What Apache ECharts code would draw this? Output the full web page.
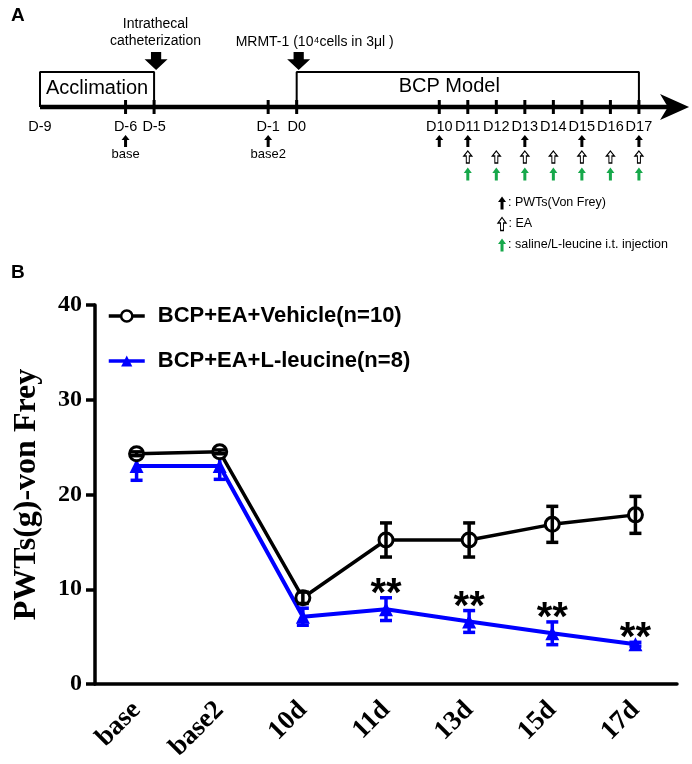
<!DOCTYPE html>
<html>
<head>
<meta charset="utf-8">
<script src="https://cdn.jsdelivr.net/npm/echarts@6/dist/echarts.min.js"></script>
<style>
html,body{margin:0;padding:0;background:#fff;}
#chart{width:692px;height:764px;}
</style>
</head>
<body>
<div id="chart"></div>
<script>
// ---------- Panel B data ----------
const categories = ['base', 'base2', '10d', '11d', '13d', '15d', '17d'];
const vehicleMean = [24.3, 24.5, 9.1, 15.2, 15.2, 16.85, 17.85];
const vehicleSem  = [0.2, 0.2, 0.6, 1.8, 1.8, 1.9, 1.95];
const leucineMean = [23.0, 23.0, 7.1, 7.9, 6.6, 5.35, 4.2];
const leucineSem  = [1.5, 1.4, 0.9, 1.2, 1.15, 1.2, 0.2];
const significance = ['', '', '', '**', '**', '**', '**'];
const seriesNames = ['BCP+EA+Vehicle(n=10)', 'BCP+EA+L-leucine(n=8)'];
const yMin = 0, yMax = 40, yInterval = 10;

// ---------- Panel A data (timeline, days) ----------
const timelineDays = [-9, -6, -5, -1, 0, 10, 11, 12, 13, 14, 15, 16, 17];
const tickDays = [-6, -5, -1, 0, 10, 11, 12, 13, 14, 15, 16, 17];
const baselineDays = [-6, -1];
const baselineLabels = ['base', 'base2'];
const pwtDays = [10, 11, 13, 15, 17];
const eaDays = [11, 12, 13, 14, 15, 16, 17];
const injectionDays = [11, 12, 13, 14, 15, 16, 17];
const phaseNames = ['Acclimation', 'BCP Model'];
const phaseStart = [-9, 0];
const phaseEnd = [-5, 17];
const eventDays = [-5, 0];
const eventLabels = ['Intrathecal\ncatheterization', 'MRMT-1 (10\u2074cells in 3\u03bcl )'];
const keyLabels = [': PWTs(Von Frey)', ': EA', ': saline/L-leucine i.t. injection'];

// timeline axis has a compressed gap between D0 and D10
function dayPos(d) { return d <= 0 ? d + 9 : d + 4; }

// layout rows for panel A (vertical placement only)
const R = { evText: 33, evText2: 42, bigArrow: 61, boxTop: 72, line: 107, dayLabel: 127,
  pwt: 141, baseLabel: 154, ea: 157, inj: 174, key: [203, 224, 245] };

const SANS = '"Liberation Sans", Arial, sans-serif';
const SERIF = '"Liberation Serif", "Times New Roman", serif';
const GREEN = '#16a84a';
const BLUE = '#0000ff';

const upArrow = 'path://M4,0 L8,5 L5.5,5 L5.5,12 L2.5,12 L2.5,5 L0,5 Z';
const downBig = 'path://M5,0 L13,0 L13,6 L18,6 L9,15 L0,6 L5,6 Z';
const rightHead = 'path://M0,0 L13,6 L0,12 L3.5,6 Z';

function textPoint(x, y, text, opts) {
  return {
    value: [x, y],
    label: Object.assign({ show: true, formatter: text, position: [0, 0], align: 'center',
      verticalAlign: 'middle', color: '#000', opacity: 1, textBorderWidth: 0,
      fontFamily: SANS, fontSize: 15 }, opts || {})
  };
}

const A = { xAxisIndex: 0, yAxisIndex: 0 };
const B = { xAxisIndex: 1, yAxisIndex: 1 };

const series = [];
function sc(o) {
  o.type = 'scatter'; o.silent = true;
  o.itemStyle = Object.assign({ opacity: 1, color: '#000' }, o.itemStyle || {});
  series.push(Object.assign(o, A));
}

// main timeline line
series.push(Object.assign({ type: 'line', data: [[0, R.line], [22.3, R.line]], symbol: 'none',
  lineStyle: { color: '#000', width: 4.5 }, silent: true }, A));
// arrow head
sc({ data: [[22.25, R.line]], symbol: rightHead, symbolSize: [29, 26] });
// phase boxes
phaseNames.forEach((n, i) => {
  const s = dayPos(phaseStart[i]), e = dayPos(phaseEnd[i]);
  series.push(Object.assign({ type: 'line', symbol: 'none', silent: true,
    data: [[s, R.line], [s, R.boxTop], [e, R.boxTop], [e, R.line]],
    lineStyle: { color: '#000', width: 2 } }, A));
});
// phase names
sc({ symbolSize: 0, data: [textPoint(2.0, 88, phaseNames[0], { fontSize: 20 }),
                           textPoint(14.35, 86, phaseNames[1], { fontSize: 20 })] });
// ticks
sc({ symbol: 'rect', symbolSize: [3, 14], data: tickDays.map(d => [dayPos(d), R.line]) });
// day labels
sc({ symbolSize: 0, data: timelineDays.map(d => textPoint(dayPos(d), R.dayLabel, 'D' + d, { fontSize: 14.5 })) });
// events: big arrows + text
sc({ symbol: downBig, symbolSize: [23, 18], data: eventDays.map(d => [dayPos(d) + 0.07, R.bigArrow]) });
sc({ symbolSize: 0, data: [
  textPoint(dayPos(eventDays[0]) + 0.05, R.evText, eventLabels[0], { fontSize: 14, lineHeight: 17 }),
  textPoint(dayPos(eventDays[1]) + 0.63, R.evText2, eventLabels[1], { fontSize: 14 })] });
// baseline arrows + labels
sc({ symbol: upArrow, symbolSize: [8, 12], data: baselineDays.map(d => [dayPos(d), R.pwt]) });
sc({ symbolSize: 0, data: baselineDays.map((d, i) => textPoint(dayPos(d), R.baseLabel, baselineLabels[i], { fontSize: 13 })) });
// PWT arrows (black)
sc({ symbol: upArrow, symbolSize: [8, 12], data: pwtDays.map(d => [dayPos(d), R.pwt]) });
// EA arrows (white)
sc({ symbol: upArrow, symbolSize: [8, 12], itemStyle: { color: '#fff', borderColor: '#000', borderWidth: 1.2 },
  data: eaDays.map(d => [dayPos(d), R.ea]) });
// injection arrows (green)
sc({ symbol: upArrow, symbolSize: [8, 13], itemStyle: { color: GREEN }, data: injectionDays.map(d => [dayPos(d), R.inj]) });
// key
const keyX = 16.2;
const keyStyles = [{ color: '#000' }, { color: '#fff', borderColor: '#000', borderWidth: 1.2 }, { color: GREEN }];
keyLabels.forEach((t, i) => {
  sc({ symbol: upArrow, symbolSize: [8, 13], itemStyle: keyStyles[i],
    data: [{ value: [keyX, R.key[i]], label: { show: true, position: 'right', distance: 2,
      formatter: t, color: '#000', fontFamily: SANS, fontSize: 12.5, textBorderWidth: 0 } }] });
});

// ---------- Panel B ----------
function errorBars(mean, sem, color, width, zz) {
  return Object.assign({
    type: 'custom', z: zz, silent: true,
    data: mean.map((m, i) => [i, m, sem[i]]),
    encode: { x: 0, y: 1 },
    renderItem: function (params, api) {
      const i = api.value(0), m = api.value(1), s = api.value(2);
      const t = api.coord([i, m + s]), b = api.coord([i, m - s]);
      const hw = 6;
      const st = { stroke: color, lineWidth: width };
      return { type: 'group', children: [
        { type: 'line', shape: { x1: t[0], y1: t[1], x2: b[0], y2: b[1] }, style: st },
        { type: 'line', shape: { x1: t[0] - hw, y1: t[1], x2: t[0] + hw, y2: t[1] }, style: st },
        { type: 'line', shape: { x1: b[0] - hw, y1: b[1], x2: b[0] + hw, y2: b[1] }, style: st }
      ] };
    }
  }, B);
}

series.push(Object.assign({
  name: seriesNames[1], type: 'line', data: leucineMean, z: 3,
  symbol: 'triangle', symbolSize: 14, lineStyle: { color: BLUE, width: 4 },
  itemStyle: { color: BLUE }
}, B));
series.push(errorBars(leucineMean, leucineSem, BLUE, 3.5, 4));
series.push(Object.assign({
  name: seriesNames[0], type: 'line', data: vehicleMean, z: 5,
  symbol: 'circle', symbolSize: 14, lineStyle: { color: '#000', width: 3.5 },
  itemStyle: { color: '#fff', borderColor: '#000', borderWidth: 3 }
}, B));
series.push(errorBars(vehicleMean, vehicleSem, '#000', 3.5, 6));
// significance stars
series.push(Object.assign({
  type: 'custom', z: 7, silent: true,
  data: leucineMean.map((m, i) => [i, m + leucineSem[i], significance[i]]),
  encode: { x: 0, y: 1 },
  renderItem: function (params, api) {
    const i = params.dataIndex;
    const p = api.coord([api.value(0), api.value(1)]);
    return { type: 'text', style: { text: significance[i], x: p[0], y: p[1] + 17,
      align: 'center', verticalAlign: 'bottom', font: 'bold 40px ' + SANS, fill: '#000' } };
  }
}, B));

const option = {
  animation: false,
  backgroundColor: '#fff',
  title: [
    { text: 'A', left: 6, top: 1, textStyle: { fontFamily: SANS, fontWeight: 'bold', fontSize: 19, color: '#000' } },
    { text: 'B', left: 6, top: 258, textStyle: { fontFamily: SANS, fontWeight: 'bold', fontSize: 19, color: '#000' } }
  ],
  legend: {
    data: seriesNames.slice(),
    left: 102, top: 300, orient: 'vertical', itemGap: 23,
    itemWidth: 36, itemHeight: 14,
    lineStyle: { width: 3.5 },
    itemStyle: { borderWidth: 2.5 },
    textStyle: { fontFamily: SANS, fontWeight: 'bold', fontSize: 22, color: '#000', padding: [0, 0, 0, 8] }
  },
  grid: [
    { left: 40, top: 0, width: 641.7, height: 260 },
    { left: 95, top: 305, width: 582, height: 379 }
  ],
  xAxis: [
    { gridIndex: 0, type: 'value', min: 0, max: 22.5, show: false },
    { gridIndex: 1, type: 'category', data: categories, boundaryGap: true,
      axisLine: { lineStyle: { color: '#000', width: 3.5 } },
      axisTick: { alignWithLabel: true, length: 9, lineStyle: { color: '#000', width: 3.5 } },
      axisLabel: { rotate: 45, margin: 22, color: '#000', fontFamily: SERIF, fontWeight: 'bold', fontSize: 27 } }
  ],
  yAxis: [
    { gridIndex: 0, type: 'value', min: 0, max: 260, inverse: true, show: false },
    { gridIndex: 1, type: 'value', min: yMin, max: yMax, interval: yInterval,
      name: 'PWTs(g)-von Frey', nameLocation: 'middle', nameGap: 52, nameRotate: 90,
      nameTextStyle: { fontFamily: SERIF, fontWeight: 'bold', fontSize: 32, color: '#000' },
      splitLine: { show: false },
      axisLine: { show: true, lineStyle: { color: '#000', width: 3.5 } },
      axisTick: { show: true, length: 9, lineStyle: { color: '#000', width: 3.5 } },
      axisLabel: { margin: 13, color: '#000', fontFamily: SERIF, fontWeight: 'bold', fontSize: 24 } }
  ],
  series: series
};

const chart = echarts.init(document.getElementById('chart'), null, { renderer: 'canvas' });
chart.setOption(option);
</script>
</body>
</html>
